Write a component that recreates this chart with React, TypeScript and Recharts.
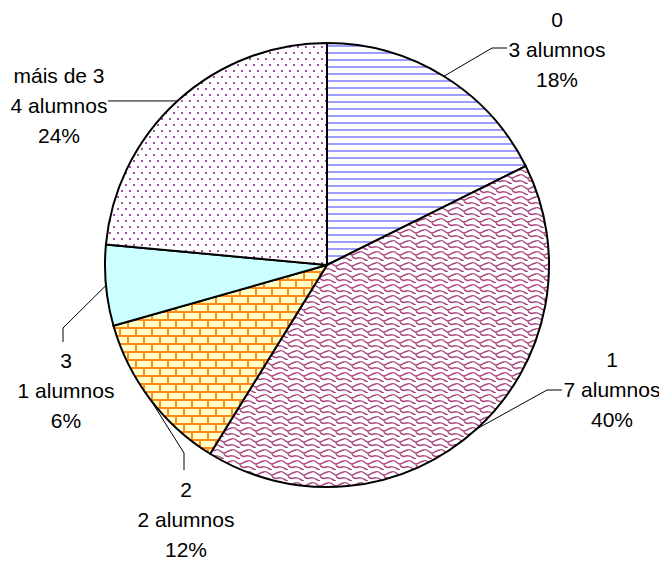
import React from "react";
import { PieChart, Pie, Cell } from "recharts";

const categories = ["0", "1", "2", "3", "máis de 3"];
const values = [3, 7, 2, 1, 4];
const countLabels = ["3 alumnos", "7 alumnos", "2 alumnos", "1 alumnos", "4 alumnos"];
const percentLabels = ["18%", "40%", "12%", "6%", "24%"];

const data = categories.map((name, i) => ({ name, value: values[i] }));

const fills = ["url(#patLines)", "url(#patScales)", "url(#patBricks)", "#CCFFFF", "url(#patDots)"];

// label layout (svg coordinates): text centre x, first line centre y, leader elbow/end points
const labelLayout = [
  { tx: 549, ty: 11.5, pts: [[484, 40], [499, 40]] },
  { tx: 604, ty: 351, pts: [[539, 382], [554, 382]] },
  { tx: 178, ty: 481.5, pts: [[176, 445], [176, 462]] },
  { tx: 58, ty: 352, pts: [[55, 320], [55, 334]] },
  { tx: 51, ty: 67, pts: [[100, null]] },
];

const RAD = Math.PI / 180;
const FONT = "'Liberation Sans', Arial, sans-serif";

const renderLabel = (props: any) => {
  const { cx, cy, midAngle, outerRadius, index } = props;
  const sx = cx + outerRadius * Math.cos(-midAngle * RAD);
  const sy = cy + outerRadius * Math.sin(-midAngle * RAD);
  const lay = labelLayout[index];
  const pts = [[sx, sy], ...lay.pts.map((p: any) => [p[0], p[1] === null ? sy : p[1]])];
  const d = pts.map((p, i) => `${i === 0 ? "M" : "L"}${p[0]},${p[1]}`).join(" ");
  const lines = [categories[index], countLabels[index], percentLabels[index]];
  return (
    <g key={`lbl-${index}`}>
      <path d={d} stroke="#000" strokeWidth={1} fill="none" />
      {lines.map((t, i) => (
        <text
          key={i}
          x={lay.tx}
          y={lay.ty + i * 30 + 7.5}
          textAnchor="middle"
          fontFamily={FONT}
          fontSize={21}
          fill="#000"
        >
          {t}
        </text>
      ))}
    </g>
  );
};

export default function App() {
  return (
    <div style={{ width: 659, height: 555 }}>
      <PieChart width={659} height={555} margin={{ top: 0, right: 0, bottom: 0, left: 0 }}>
        <defs>
          <pattern id="patLines" patternUnits="userSpaceOnUse" width="8" height="7">
            <rect width="8" height="7" fill="#ffffff" />
            <rect y="2" width="8" height="2" fill="#9d9dff" />
          </pattern>
          <pattern id="patScales" patternUnits="userSpaceOnUse" width="16" height="11">
            <rect width="16" height="11" fill="#ffffff" />
            <path
              d="M0,2 C3,0 5,5 8,5 C11,5 12,2 16,2 M8,5 C8,7 10,9 12,8 M0,8 C3,7 5,11 8,11 M16,8 C13,7 12,10 12,8"
              stroke="#a8437f"
              strokeWidth={1.4}
              fill="none"
            />
          </pattern>
          <pattern id="patBricks" patternUnits="userSpaceOnUse" width="16" height="16">
            <rect width="16" height="16" fill="#ff8c1a" />
            <rect x="1" y="1" width="14" height="6" fill="#ffffc8" />
            <rect x="-7" y="9" width="14" height="6" fill="#ffffc8" />
            <rect x="9" y="9" width="14" height="6" fill="#ffffc8" />
          </pattern>
          <pattern id="patDots" patternUnits="userSpaceOnUse" width="8" height="12">
            <rect width="8" height="12" fill="#ffffff" />
            <rect x="1" y="2" width="2" height="2" fill="#a64fa6" />
            <rect x="5" y="8" width="2" height="2" fill="#a64fa6" />
          </pattern>
        </defs>
        <Pie
          data={data}
          dataKey="value"
          nameKey="name"
          cx={319}
          cy={257}
          outerRadius={222}
          innerRadius={0}
          startAngle={90}
          endAngle={-270}
          stroke="#000"
          strokeWidth={2}
          label={renderLabel}
          labelLine={false}
          isAnimationActive={false}
        >
          {data.map((d, i) => (
            <Cell key={d.name} fill={fills[i]} stroke="#000" strokeWidth={2} />
          ))}
        </Pie>
      </PieChart>
    </div>
  );
}
